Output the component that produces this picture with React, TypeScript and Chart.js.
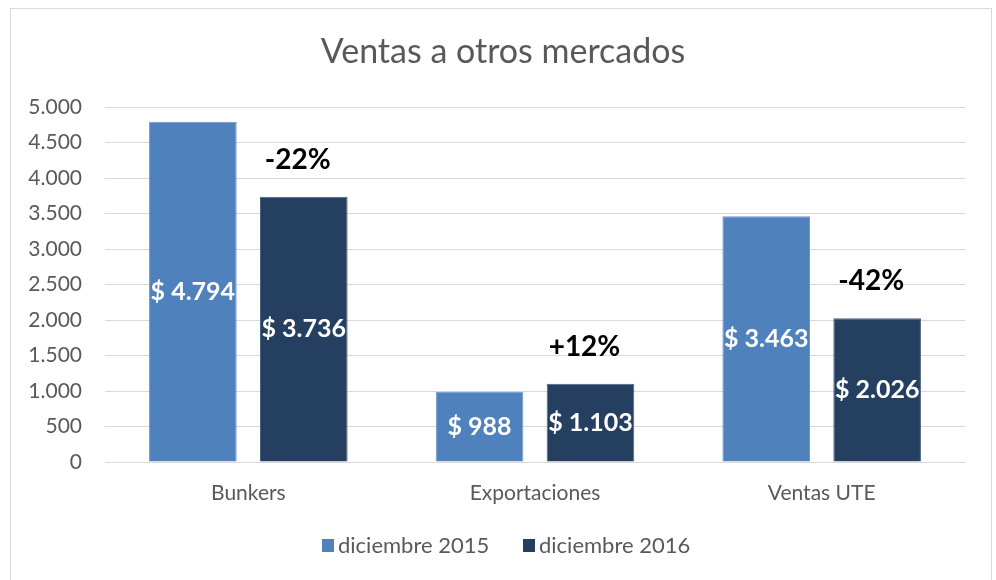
import React, { useEffect, useRef } from "react";
import { Chart, registerables } from "chart.js";
Chart.register(...registerables);

const categories = ["Bunkers", "Exportaciones", "Ventas UTE"];
const series2015 = [4794, 988, 3463];
const series2016 = [3736, 1103, 2026];
const seriesNames = ["diciembre 2015", "diciembre 2016"];
const changeLabels = ["-22%", "+12%", "-42%"];
const titleText = "Ventas a otros mercados";
const yMax = 5000;
const yStep = 500;

const colors = ["#4F81BD", "#253F60"];
const FONT = "Lato, 'Open Sans', sans-serif";

const fmt = (v: number) => String(v).replace(/\B(?=(\d{3})+(?!\d))/g, ".");

const labelsPlugin = {
  id: "customLabels",
  afterDraw(chart: any) {
    const ctx = chart.ctx;
    ctx.save();
    // title
    ctx.fillStyle = "#595959";
    ctx.font = `34px ${FONT}`;
    ctx.textAlign = "center";
    ctx.textBaseline = "middle";
    ctx.fillText(titleText, 503, 52);

    // bar labels
    chart.data.datasets.forEach((ds: any, di: number) => {
      const meta = chart.getDatasetMeta(di);
      meta.data.forEach((bar: any, i: number) => {
        const v = ds.data[i];
        ctx.fillStyle = "#ffffff";
        ctx.font = `bold 25px ${FONT}`;
        ctx.textAlign = "center";
        ctx.textBaseline = "middle";
        ctx.fillText("$ " + fmt(v), bar.x, (bar.y + bar.base) / 2);
        if (di === 1) {
          ctx.fillStyle = "#000000";
          ctx.font = `bold 28px ${FONT}`;
          ctx.fillText(changeLabels[i], bar.x - 6, bar.y - 37);
        }
      });
    });

    // legend
    ctx.font = `22px ${FONT}`;
    ctx.textAlign = "left";
    ctx.textBaseline = "middle";
    const legendY = 546;
    const items = [
      { x: 322, name: seriesNames[0], color: colors[0] },
      { x: 523, name: seriesNames[1], color: colors[1] },
    ];
    items.forEach((it) => {
      ctx.fillStyle = it.color;
      ctx.fillRect(it.x, legendY - 7, 12, 13);
      ctx.fillStyle = "#595959";
      ctx.fillText(it.name, it.x + 16, legendY);
    });
    ctx.restore();
  },
};

export default function App() {
  const ref = useRef<HTMLCanvasElement>(null);
  useEffect(() => {
    if (!ref.current) return;
    const chart = new Chart(ref.current, {
      type: "bar",
      data: {
        labels: categories,
        datasets: [
          {
            label: seriesNames[0],
            data: series2015,
            backgroundColor: colors[0],
            borderColor: "#6f97c9",
            borderWidth: 1,
            categoryPercentage: 0.774,
            barPercentage: 0.79,
          },
          {
            label: seriesNames[1],
            data: series2016,
            backgroundColor: colors[1],
            borderColor: "#4a6282",
            borderWidth: 1,
            categoryPercentage: 0.774,
            barPercentage: 0.79,
          },
        ],
      },
      options: {
        responsive: false,
        animation: false,
        devicePixelRatio: 1,
        layout: { padding: { top: 107, left: 0, right: 31, bottom: 0 } },
        plugins: {
          legend: { display: false },
          title: { display: false },
          tooltip: { enabled: false },
        },
        scales: {
          x: {
            grid: { display: false, drawTicks: false },
            border: { display: true, color: "#d9d9d9", width: 1 },
            ticks: {
              color: "#595959",
              font: { family: FONT, size: 21 },
              padding: 19,
            },
            afterFit: (scale: any) => {
              scale.height = 580 - 462;
            },
          },
          y: {
            min: 0,
            max: yMax,
            grid: { color: "#d9d9d9", lineWidth: 1, drawTicks: false },
            border: { display: false },
            ticks: {
              stepSize: yStep,
              color: "#595959",
              font: { family: FONT, size: 21 },
              padding: 23,
              callback: (v: any) => fmt(Number(v)),
            },
            afterFit: (scale: any) => {
              scale.width = 105;
            },
          },
        },
      },
      plugins: [labelsPlugin],
    });
    return () => chart.destroy();
  }, []);
  return (
    <div style={{ position: "fixed", left: 0, top: 0, width: 996, height: 580, background: "#fff" }}>
      <canvas ref={ref} width={996} height={580} style={{ position: "absolute", left: 0, top: 0 }} />
      <div
        style={{
          position: "absolute",
          left: 10,
          top: 8,
          width: 982,
          height: 580,
          border: "1px solid #d9d9d9",
          boxSizing: "border-box",
          pointerEvents: "none",
        }}
      />
    </div>
  );
}
